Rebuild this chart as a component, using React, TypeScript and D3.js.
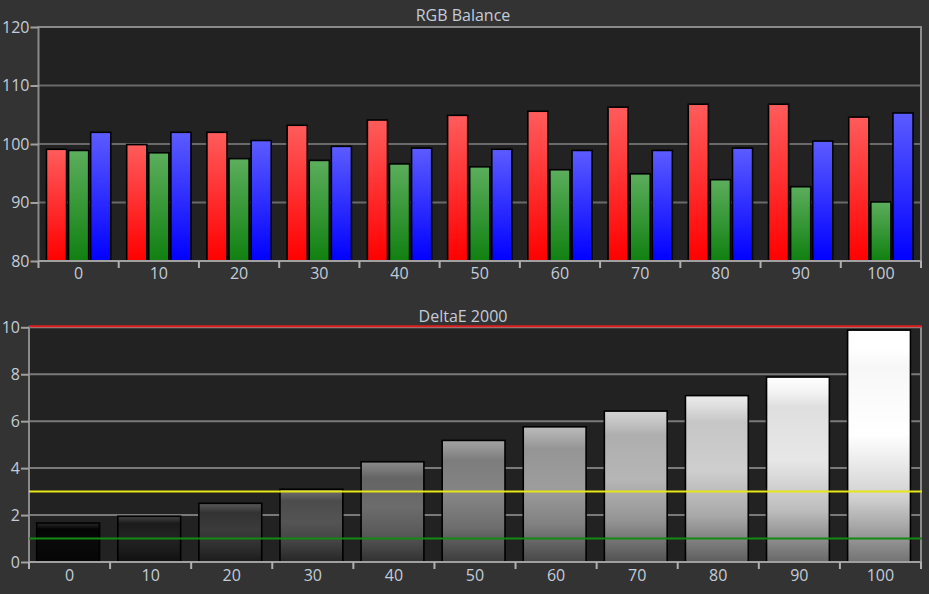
import { useEffect, useRef } from 'react'
import * as d3 from 'd3'

const levels = ['0', '10', '20', '30', '40', '50', '60', '70', '80', '90', '100']
const redValues = [99.1, 99.9, 102.0, 103.2, 104.1, 104.9, 105.6, 106.3, 106.8, 106.8, 104.6]
const greenValues = [98.9, 98.5, 97.5, 97.2, 96.6, 96.1, 95.6, 94.9, 93.9, 92.7, 90.1]
const blueValues = [102.0, 102.0, 100.6, 99.6, 99.3, 99.1, 98.9, 98.9, 99.3, 100.5, 105.3]
const deltaE = [1.66, 1.95, 2.5, 3.1, 4.27, 5.18, 5.76, 6.43, 7.09, 7.88, 9.88]
const rgbTicks = [80, 90, 100, 110, 120]
const deTicks = [0, 2, 4, 6, 8, 10]
const deLimits = [
  { value: 10, color: '#e01e1e' },
  { value: 3, color: '#e6e619' },
  { value: 1, color: '#138a13' },
]

const TEXT = '#c3ccd8'
const FONT = '"Open Sans", "Noto Sans", sans-serif'
const FS = 16

export default function App() {
  const svgRef = useRef<SVGSVGElement>(null)

  useEffect(() => {
    if (!svgRef.current) return
    const svg = d3.select(svgRef.current)
    svg.selectAll('*').remove()
    const W = 929
    const H = 594
    svg.attr('width', W).attr('height', H)

    svg.append('rect').attr('width', W).attr('height', H).attr('fill', '#333333')

    const defs = svg.append('defs')
    const grad = (id: string, stops: [number, string][]) => {
      const g = defs.append('linearGradient').attr('id', id)
        .attr('x1', 0).attr('y1', 0).attr('x2', 0).attr('y2', 1)
      stops.forEach(([o, c]) => g.append('stop').attr('offset', o).attr('stop-color', c))
    }
    grad('gr', [[0, '#ff5c5c'], [1, '#ff0000']])
    grad('gg', [[0, '#5cae5c'], [1, '#108010']])
    grad('gb', [[0, '#5c5cff'], [1, '#0000ff']])

    // ---------- RGB Balance ----------
    const t = { left: 38.5, right: 921, top: 27, bottom: 261 }
    const x1 = d3.scaleBand().domain(levels).range([t.left, t.right])
    const sub = d3.scaleBand().domain(['r', 'g', 'b']).range([0, x1.bandwidth()])
      .paddingInner(0.09).paddingOuter(0.36)
    const y1 = d3.scaleLinear().domain([80, 120]).range([t.bottom, t.top])

    svg.append('rect').attr('x', t.left).attr('y', t.top)
      .attr('width', t.right - t.left).attr('height', t.bottom - t.top).attr('fill', '#222222')

    svg.append('g').selectAll('line').data(rgbTicks.slice(1, -1)).join('line')
      .attr('x1', t.left).attr('x2', t.right)
      .attr('y1', d => y1(d)).attr('y2', d => y1(d))
      .attr('stroke', '#6a6a6a').attr('stroke-width', 2)

    const series = [
      { key: 'r', values: redValues, fill: 'url(#gr)' },
      { key: 'g', values: greenValues, fill: 'url(#gg)' },
      { key: 'b', values: blueValues, fill: 'url(#gb)' },
    ]
    series.forEach(s => {
      svg.append('g').selectAll('rect').data(levels).join('rect')
        .attr('x', d => (x1(d) ?? 0) + (sub(s.key) ?? 0))
        .attr('y', (d, i) => y1(s.values[i]))
        .attr('width', sub.bandwidth())
        .attr('height', (d, i) => t.bottom - y1(s.values[i]))
        .attr('fill', s.fill)
        .attr('stroke', '#000').attr('stroke-width', 1.6)
    })

    // frame
    svg.append('path')
      .attr('d', `M${t.left},${t.bottom}V${t.top}H${t.right}V${t.bottom}`)
      .attr('fill', 'none').attr('stroke', '#8a8a8a').attr('stroke-width', 2)
    svg.append('line').attr('x1', t.left).attr('x2', t.right + 1)
      .attr('y1', t.bottom).attr('y2', t.bottom).attr('stroke', '#a0a0a0').attr('stroke-width', 2)

    const yAx1 = svg.append('g').attr('transform', `translate(${t.left},0)`)
      .call(d3.axisLeft(y1).tickValues(rgbTicks).tickSize(8).tickPadding(1))
    yAx1.select('.domain').remove()
    yAx1.selectAll('line').attr('stroke', '#a0a0a0').attr('stroke-width', 2)
    yAx1.selectAll('text').attr('fill', TEXT).attr('font-size', FS).attr('font-family', FONT)

    svg.append('g').selectAll('line').data([...levels.map(d => x1(d) ?? 0), t.right]).join('line')
      .attr('x1', d => d).attr('x2', d => d)
      .attr('y1', t.bottom).attr('y2', t.bottom + 7)
      .attr('stroke', '#b0b0b0').attr('stroke-width', 2)
    svg.append('g').selectAll('text').data(levels).join('text')
      .attr('x', d => (x1(d) ?? 0) + x1.bandwidth() / 2).attr('y', t.bottom + 18)
      .attr('text-anchor', 'middle').attr('fill', TEXT)
      .attr('font-size', FS).attr('font-family', FONT).text(d => d)

    svg.append('text').attr('x', 463).attr('y', 21).attr('text-anchor', 'middle')
      .attr('fill', TEXT).attr('font-size', FS).attr('font-family', FONT).text('RGB Balance')

    // ---------- DeltaE 2000 ----------
    const b = { left: 29, right: 921, top: 327.3, bottom: 562 }
    const x2 = d3.scaleBand().domain(levels).range([b.left, b.right])
    const y2 = d3.scaleLinear().domain([0, 10]).range([b.bottom, b.top])

    svg.append('rect').attr('x', b.left).attr('y', b.top)
      .attr('width', b.right - b.left).attr('height', b.bottom - b.top).attr('fill', '#222222')

    svg.append('g').selectAll('line').data(deTicks.slice(1, -1)).join('line')
      .attr('x1', b.left).attr('x2', b.right)
      .attr('y1', d => y2(d)).attr('y2', d => y2(d))
      .attr('stroke', '#7a7a7a').attr('stroke-width', 2)

    levels.forEach((lv, i) => {
      const base = 10 + 245 * (i / (levels.length - 1))
      const c = (v: number) => { const g = Math.max(0, Math.min(255, Math.round(v))); return d3.rgb(g, g, g).formatHex() }
      grad(`gd${i}`, [
        [0, c(base + 30)],
        [0.08, c(base + 12)],
        [0.16, c(base - 8)],
        [0.45, c(base)],
        [0.72, c(base * 0.82)],
        [1, c(base * 0.45)],
      ])
    })

    svg.append('g').selectAll('rect').data(levels).join('rect')
      .attr('x', d => (x2(d) ?? 0) + x2.bandwidth() * 0.095)
      .attr('y', (d, i) => y2(deltaE[i]))
      .attr('width', x2.bandwidth() * 0.775)
      .attr('height', (d, i) => b.bottom - y2(deltaE[i]))
      .attr('fill', (d, i) => `url(#gd${i})`)
      .attr('stroke', '#000').attr('stroke-width', 1.6)

    svg.append('path')
      .attr('d', `M${b.left},${b.bottom}V${b.top}H${b.right}V${b.bottom}`)
      .attr('fill', 'none').attr('stroke', '#8a8a8a').attr('stroke-width', 2)
    svg.append('line').attr('x1', b.left).attr('x2', b.right + 1)
      .attr('y1', b.bottom).attr('y2', b.bottom).attr('stroke', '#a0a0a0').attr('stroke-width', 2)

    svg.append('g').selectAll('line').data(deLimits).join('line')
      .attr('x1', b.left).attr('x2', b.right + 1)
      .attr('y1', d => y2(d.value) - (d.value === 10 ? 1 : 0))
      .attr('y2', d => y2(d.value) - (d.value === 10 ? 1 : 0))
      .attr('stroke', d => d.color).attr('stroke-width', 2)

    const yAx2 = svg.append('g').attr('transform', `translate(${b.left},0)`)
      .call(d3.axisLeft(y2).tickValues(deTicks).tickSize(8).tickPadding(1))
    yAx2.select('.domain').remove()
    yAx2.selectAll('line').attr('stroke', '#a0a0a0').attr('stroke-width', 2)
    yAx2.selectAll('text').attr('fill', TEXT).attr('font-size', FS).attr('font-family', FONT)

    svg.append('g').selectAll('line').data([...levels.map(d => x2(d) ?? 0), b.right]).join('line')
      .attr('x1', d => d).attr('x2', d => d)
      .attr('y1', b.bottom).attr('y2', b.bottom + 7)
      .attr('stroke', '#b0b0b0').attr('stroke-width', 2)
    svg.append('g').selectAll('text').data(levels).join('text')
      .attr('x', d => (x2(d) ?? 0) + x2.bandwidth() / 2).attr('y', b.bottom + 19)
      .attr('text-anchor', 'middle').attr('fill', TEXT)
      .attr('font-size', FS).attr('font-family', FONT).text(d => d)

    svg.append('text').attr('x', 463).attr('y', 322).attr('text-anchor', 'middle')
      .attr('fill', TEXT).attr('font-size', FS).attr('font-family', FONT).text('DeltaE 2000')
  }, [])

  return <svg ref={svgRef} style={{ position: 'absolute', left: 0, top: 0, display: 'block' }} />
}
